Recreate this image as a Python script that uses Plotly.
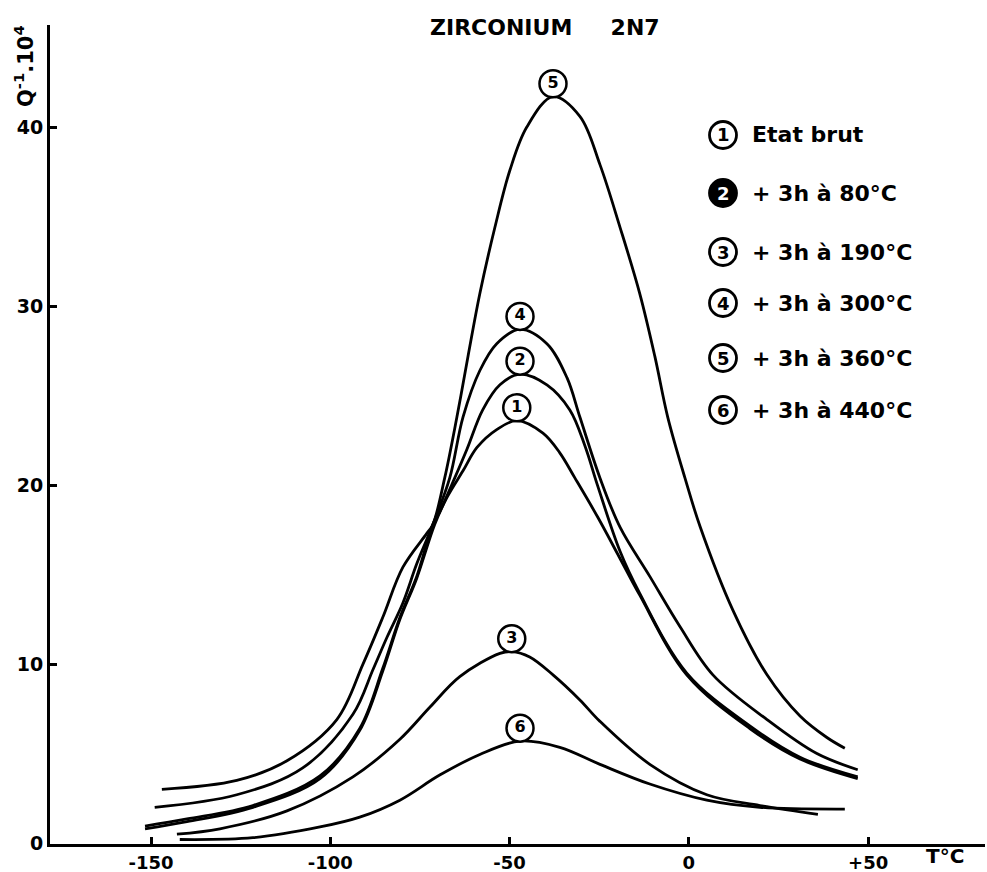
import plotly.graph_objects as go

# ---- data (T in °C, Q^-1 x 10^4) ----
t1 = [-151.7, -140.0, -121.6, -102.9, -91.8, -85.4, -80.6, -75.9, -70.9, -67.5, -63.0, -59.1, -53.6, -48.0,
      -40.7, -36.0, -31.8, -25.4, -19.2, -13.7, -0.6, 17.0, 31.0, 47.1]
q1 = [0.8, 1.2, 2.0, 3.6, 6.3, 9.6, 12.5, 14.8, 17.8, 19.3, 20.8, 22.1, 23.1, 23.6,
      22.9, 21.8, 20.4, 18.2, 15.9, 13.85, 9.4, 6.4, 4.7, 3.6]

t2 = [-151.7, -140.0, -121.6, -102.9, -91.8, -85.4, -80.6, -75.9, -71.4, -69.5, -65.3, -61.9, -57.5, -52.7,
      -47.1, -39.6, -33.2, -29.0, -25.5, -19.2, -13.7, -0.6, 17.0, 31.0, 47.1]
q2 = [0.95, 1.35, 2.1, 3.75, 6.4, 9.75, 12.6, 14.9, 17.8, 18.5, 20.4, 22.0, 24.2, 25.6,
      26.2, 25.6, 24.2, 22.2, 20.0, 16.3, 13.95, 9.5, 6.55, 4.8, 3.7]

t3 = [-142.8, -130.8, -112.1, -93.7, -80.6, -72.2, -63.9, -52.7, -49.4, -44.4, -37.9, -30.4, -24.8, -10.9,
      5.0, 19.8, 36.0]
q3 = [0.5, 0.8, 1.8, 3.7, 5.8, 7.6, 9.3, 10.6, 10.7, 10.4, 9.4, 8.0, 6.8, 4.4,
      2.7, 2.1, 1.6]

t4 = [-149.0, -126.1, -107.7, -93.7, -88.1, -84.2, -79.8, -75.9, -71.4, -66.7, -63.0, -58.3, -53.6, -47.1,
      -39.6, -34.0, -30.4, -24.8, -19.2, -10.9, -2.5, 6.7, 21.8, 35.7, 47.1]
q4 = [2.0, 2.7, 4.2, 7.2, 9.7, 11.5, 13.4, 15.6, 17.8, 20.4, 23.8, 26.4, 27.9, 28.7,
      27.9, 26.0, 23.8, 20.4, 17.65, 14.9, 12.1, 9.4, 6.9, 5.0, 4.1]

t5 = [-147.0, -126.1, -112.1, -98.2, -90.9, -85.4, -79.8, -73.1, -71.4, -68.1, -64.7, -61.6, -58.3, -54.1,
      -49.9, -45.2, -37.9, -30.4, -24.8, -19.2, -13.7, -9.5, -5.9, -1.1, 3.1, 12.3, 21.8, 31.0, 38.5, 43.5]
q5 = [3.0, 3.5, 4.6, 6.9, 10.0, 12.6, 15.4, 17.3, 17.8, 20.4, 23.8, 27.2, 30.7, 34.4,
      37.6, 40.0, 41.7, 40.6, 37.9, 34.4, 30.7, 27.2, 23.8, 20.4, 17.7, 13.0, 9.4, 7.1, 5.9, 5.3]

t6 = [-142.0, -121.6, -102.9, -91.8, -80.6, -69.5, -58.3, -47.1, -36.0, -24.8, -10.9, 5.0, 19.8, 43.5]
q6 = [0.2, 0.3, 0.9, 1.45, 2.4, 3.8, 4.95, 5.7, 5.35, 4.4, 3.3, 2.4, 2.0, 1.9]

curve_ids = ["1", "2", "3", "4", "5", "6"]
legend_labels = ["Etat brut", "+ 3h à 80°C", "+ 3h à 190°C", "+ 3h à 300°C", "+ 3h à 360°C", "+ 3h à 440°C"]
x_tickvals = [-150, -100, -50, 0, 50]
x_ticktext = ["-150", "-100", "-50", "0", "+50"]
y_tickvals = [0, 10, 20, 30, 40]
y_ticktext = ["0", "10", "20", "30", "40"]
title_text = "ZIRCONIUM" + "&nbsp;" * 5 + "2N7"
y_label = "Q<sup>-1</sup>.10<sup>4</sup>"
x_label = "T°C"

series = [(t1, q1), (t2, q2), (t3, q3), (t4, q4), (t5, q5), (t6, q6)]

FONT = "DejaVu Sans, sans-serif"
fig = go.Figure()

for cid, (t, q) in zip(curve_ids, series):
    fig.add_trace(go.Scatter(x=t, y=q, mode="lines",
                             line=dict(color="black", width=2.8, shape="spline", smoothing=1.0),
                             showlegend=False, hoverinfo="skip"))

# circled numbers above each peak
for cid, (t, q) in zip(curve_ids, series):
    i = max(range(len(q)), key=lambda k: q[k])
    fig.add_trace(go.Scatter(x=[t[i]], y=[q[i] + 0.72], mode="markers+text", text=[cid],
                             textposition="middle center",
                             textfont=dict(family=FONT, size=16, color="black", weight="bold"),
                             marker=dict(size=27, color="white", line=dict(color="black", width=2.5)),
                             cliponaxis=False, showlegend=False, hoverinfo="skip"))

L, R, T, B = 50, 2, 25, 28
W, H = 987, 872
pw, ph = W - L - R, H - T - B

def px(xp):
    return (xp - L) / pw

def py(yp):
    return (H - B - yp) / ph

shapes = []
annotations = []
rows_y = [135, 193, 252, 303, 358, 410]
for cid, lab, yy in zip(curve_ids, legend_labels, rows_y):
    rx, ry = 13.5 / pw, 13.5 / ph
    shapes.append(dict(type="circle", xref="paper", yref="paper",
                       x0=px(723) - rx, x1=px(723) + rx, y0=py(yy) - ry, y1=py(yy) + ry,
                       line=dict(color="black", width=2.8),
                       fillcolor="black" if cid == "2" else "white"))
    annotations.append(dict(xref="paper", yref="paper", x=px(723), y=py(yy), text=cid, showarrow=False,
                            font=dict(family=FONT, size=18, color="white" if cid == "2" else "black",
                                      weight="bold"),
                            xanchor="center", yanchor="middle"))
    annotations.append(dict(xref="paper", yref="paper", x=px(750), y=py(yy), text=lab, showarrow=False,
                            font=dict(family=FONT, size=22, color="black", weight="bold"),
                            xanchor="left", yanchor="middle"))

annotations.append(dict(xref="paper", yref="paper", x=px(545), y=py(28), text=title_text, showarrow=False,
                        font=dict(family=FONT, size=22, color="black", weight="bold"),
                        xanchor="center", yanchor="middle"))
annotations.append(dict(xref="paper", yref="paper", x=px(24), y=py(66), text=y_label, showarrow=False,
                        textangle=-90, font=dict(family=FONT, size=21, color="black", weight="bold"),
                        xanchor="center", yanchor="middle"))
annotations.append(dict(xref="paper", yref="paper", x=px(945), y=py(856), text=x_label, showarrow=False,
                        font=dict(family=FONT, size=20, color="black", weight="bold"),
                        xanchor="center", yanchor="middle"))

fig.update_layout(
    width=W, height=H,
    margin=dict(l=L, r=R, t=T, b=B),
    paper_bgcolor="white", plot_bgcolor="white",
    shapes=shapes, annotations=annotations,
    xaxis=dict(range=[-178.2, 82.6], tickvals=x_tickvals, ticktext=x_ticktext, automargin=False,
               showgrid=False, zeroline=False, showline=True, linecolor="black", linewidth=3,
               ticks="inside", ticklen=7, tickwidth=2.5, tickcolor="black",
               tickfont=dict(family=FONT, size=18, color="black", weight="bold")),
    yaxis=dict(range=[-0.05, 45.7], tickvals=y_tickvals, ticktext=y_ticktext, automargin=False,
               showgrid=False, zeroline=False, showline=True, linecolor="black", linewidth=3,
               ticks="inside", ticklen=7, tickwidth=2.5, tickcolor="black",
               tickfont=dict(family=FONT, size=19, color="black", weight="bold")),
)

fig.write_html("out.html")
